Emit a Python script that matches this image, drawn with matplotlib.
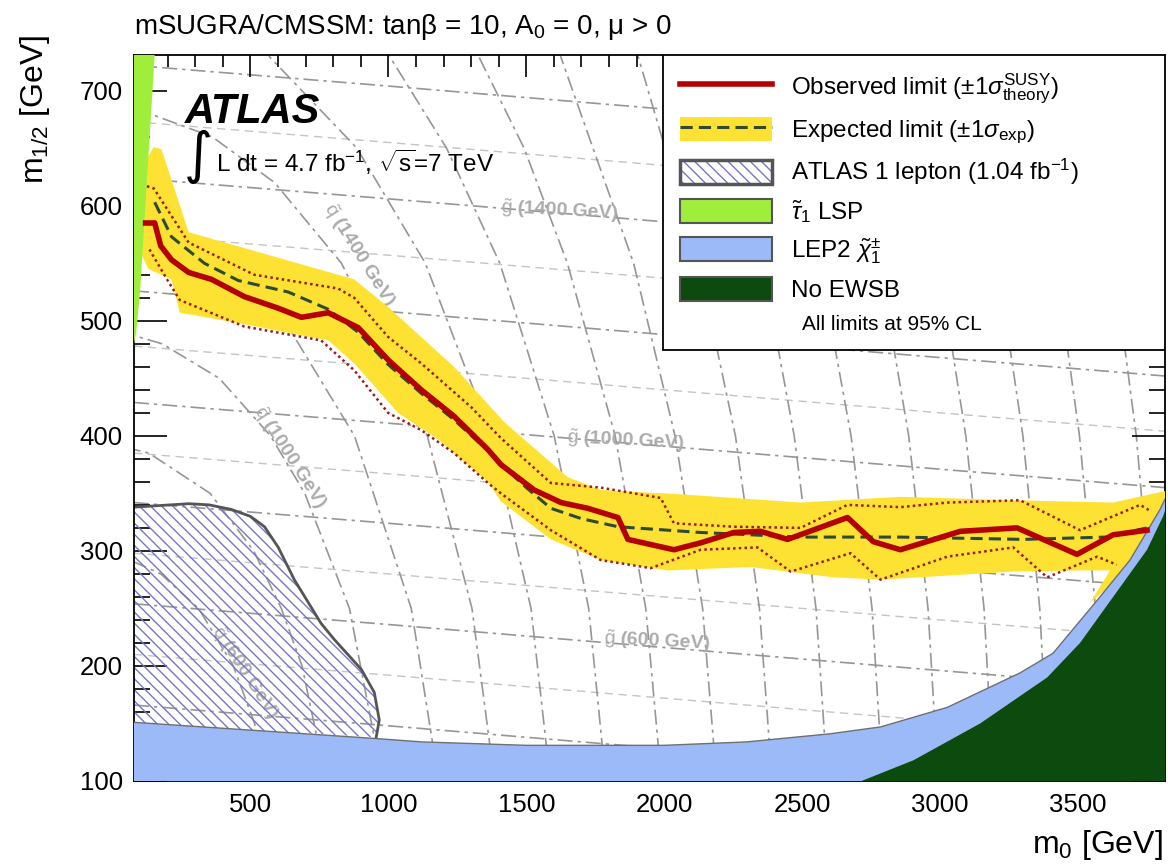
import matplotlib
matplotlib.use('Agg')
import matplotlib.pyplot as plt
from matplotlib.patches import Patch, Rectangle
from matplotlib.lines import Line2D
from matplotlib.ticker import MultipleLocator

plt.rcParams['font.family'] = ['Liberation Sans', 'DejaVu Sans']
plt.rcParams['mathtext.fontset'] = 'custom'
plt.rcParams['mathtext.rm'] = 'Liberation Sans'
plt.rcParams['mathtext.it'] = 'Liberation Sans:italic'
plt.rcParams['mathtext.bf'] = 'Liberation Sans:bold'
plt.rcParams['hatch.linewidth'] = 1.0

# ---- limit curves (m0, m1/2) in GeV ----
observed_m0 = [120, 153, 175, 214, 276, 359, 478, 600, 685, 782, 891, 999, 1119, 1238, 1361, 1408,
               1528, 1626, 1723, 1832, 1868, 2035, 2132, 2252, 2349, 2447, 2664, 2758, 2856, 3073,
               3279, 3496, 3627, 3750]
observed_m12 = [585, 585, 565, 553, 542, 536, 521, 511, 503, 507, 494, 466, 440, 417, 388, 375,
                353, 342, 337, 329, 310, 301, 307, 316, 317, 310, 329, 308, 301, 317,
                320, 297, 314, 318]

expected_m0 = [153, 214, 333, 456, 637, 782, 891, 999, 1119, 1238, 1361, 1419, 1500, 1589, 1700,
               1832, 2132, 2494, 2856, 3301, 3600, 3750]
expected_m12 = [603, 573, 550, 535, 525, 510, 490, 462, 437, 414, 387, 373, 355, 337, 328,
                321, 316, 312, 312, 310, 312, 320]

theory_up_m0 = [125, 150, 276, 514, 818, 876, 999, 1119, 1300, 1408, 1589, 1770, 1987, 2035, 2252,
                2494, 2664, 2856, 3026, 3290, 3507, 3725, 3760]
theory_up_m12 = [617, 615, 568, 540, 528, 520, 486, 463, 425, 398, 359, 355, 346, 324, 321,
                 320, 340, 338, 342, 344, 318, 340, 335]

theory_dn_m0 = [134, 200, 244, 478, 756, 876, 999, 1119, 1238, 1361, 1408, 1589, 1770, 1951, 2132,
                2338, 2458, 2675, 2784, 3026, 3265, 3388, 3569, 3640]
theory_dn_m12 = [562, 535, 518, 495, 483, 457, 420, 405, 385, 359, 350, 318, 292, 285, 301,
                 303, 282, 298, 275, 295, 303, 277, 295, 288]

# expected +-1 sigma band: upper edge left->right, lower edge right->left
band_up_m0 = [100, 149, 178, 276, 876, 999, 1238, 1420, 1650, 1770, 2071, 2494, 2856, 3265, 3627, 3815]
band_up_m12 = [630, 651, 649, 577, 536, 512, 460, 412, 364, 353, 349, 342, 347, 344, 342, 352]
band_lo_m0 = [3815, 3699, 3627, 3544, 3616, 3500, 3265, 2784, 2613, 2313, 2012, 1770, 1589, 1408,
              1361, 1180, 1035, 876, 782, 456, 244, 214, 130, 100]
band_lo_m12 = [338, 292, 272, 255, 283, 283, 282, 275, 277, 286, 283, 292, 310, 343,
               360, 397, 420, 463, 483, 498, 507, 536, 545, 560]

# excluded / theory regions
lep1_m0 = [78, 276, 350, 431, 500, 551, 601, 659, 756, 804, 902, 949, 967, 956, 514, 78]
lep1_m12 = [338, 341, 340, 336, 330, 321, 303, 275, 237, 223, 197, 177, 153, 138, 144, 151]
lep2_m0 = [78, 514, 949, 1119, 1500, 2000, 2300, 2600, 2784, 3026, 3290, 3409, 3569, 3688, 3797, 3815]
lep2_m12 = [151, 144, 137, 134, 131, 131, 134, 141, 147, 164, 194, 211, 257, 292, 336, 345]
ewsb_m0 = [2715, 2903, 3145, 3388, 3507, 3627, 3750, 3808, 3815]
ewsb_m12 = [100, 118, 150, 190, 220, 260, 301, 330, 335]
stau_m0 = [78, 86, 100, 153, 78]
stau_m12 = [480, 490, 525, 731, 731]

# iso-mass lines
gluino_m0 = [78, 1000, 2000, 3000, 3815]
gluino_lines = {
    400: [166, 148, 128, 108, 92],
    500: [210, 192, 172, 152, 136],
    600: [254, 236, 216, 196, 180],
    700: [298, 280, 260, 240, 224],
    800: [342, 324, 304, 284, 268],
    900: [385, 367, 347, 327, 311],
    1000: [429, 411, 391, 371, 355],
    1100: [478, 460, 440, 420, 404],
    1200: [526, 508, 488, 468, 452],
    1300: [575, 557, 537, 517, 501],
    1400: [624, 606, 586, 566, 550],
    1500: [673, 655, 635, 615, 599],
    1600: [722, 704, 684, 664, 648],
    1700: [771, 753, 733, 713, 697],
}
squark_lines = {
    600: ([565, 515, 438, 312, 175, 82], [100, 150, 200, 250, 280, 290]),
    800: ([774, 687, 612, 512, 354, 132, 80], [100, 200, 250, 300, 350, 385, 388]),
    1000: ([979, 859, 697, 573, 387, 180, 80], [100, 250, 350, 400, 450, 480, 487]),
    1200: ([1182, 1083, 877, 624, 411, 227, 80], [100, 250, 400, 500, 550, 575, 585]),
    1400: ([1385, 1303, 1141, 830, 588, 361, 134], [100, 250, 400, 550, 620, 660, 680]),
    1600: ([1587, 1517, 1373, 1134, 886, 567], [100, 250, 400, 550, 650, 730]),
    1800: ([1788, 1726, 1601, 1404, 1211, 1004], [100, 250, 400, 550, 650, 730]),
    2000: ([1990, 1933, 1822, 1649, 1492, 1327], [100, 250, 400, 550, 650, 730]),
    2200: ([2190, 2139, 2039, 1889, 1624], [100, 250, 400, 550, 730]),
    2400: ([2391, 2345, 2258, 2125, 1905], [100, 250, 400, 550, 730]),
    2600: ([2592, 2550, 2471, 2356, 2171], [100, 250, 400, 550, 730]),
    2800: ([2792, 2753, 2677, 2563, 2367], [100, 250, 400, 550, 730]),
    3000: ([2993, 2956, 2886, 2780, 2600], [100, 250, 400, 550, 730]),
    3200: ([3193, 3159, 3093, 2995, 2829], [100, 250, 400, 550, 730]),
    3400: ([3394, 3361, 3300, 3208, 3053], [100, 250, 400, 550, 730]),
    3600: ([3594, 3563, 3505, 3419, 3274], [100, 250, 400, 550, 730]),
    3800: ([3794, 3765, 3711, 3629, 3493], [100, 250, 400, 550, 730]),
    4000: ([3995, 3967, 3915, 3838, 3710], [100, 250, 400, 550, 730]),
}

W, H = 1168, 866
fig = plt.figure(figsize=(W / 100, H / 100), dpi=100)
ax = fig.add_axes([134 / W, 85 / H, 1031 / W, 726 / H])
ax.set_xlim(78, 3815)
ax.set_ylim(100, 731)

# grey iso-mass lines
for m, ys in gluino_lines.items():
    if m % 200 == 0:
        ax.plot(gluino_m0, ys, color='#969696', lw=1.2, ls=(0, (9, 3, 2, 3)), zorder=1)
    else:
        ax.plot(gluino_m0, ys, color='#c4c4c4', lw=1.0, ls=(0, (6, 4)), zorder=1)
for m, (xs, ys) in squark_lines.items():
    ax.plot(xs, ys, color='#969696', lw=1.2, ls=(0, (9, 3, 2, 3)), zorder=1)

lab = dict(color='#ababab', fontsize=14, fontweight='bold', ha='center', va='center',
           rotation_mode='anchor', zorder=2)
ax.text(1620, 596, r'$\tilde{\mathrm{g}}$ (1400 GeV)', rotation=-3, **lab)
ax.text(1860, 396, r'$\tilde{\mathrm{g}}$ (1000 GeV)', rotation=-3, **lab)
ax.text(1975, 221, r'$\tilde{\mathrm{g}}$ (600 GeV)', rotation=-3, **lab)
ax.text(894, 557, r'$\tilde{\mathrm{q}}$ (1400 GeV)', rotation=-58, **lab)
ax.text(641, 381, r'$\tilde{\mathrm{q}}$ (1000 GeV)', rotation=-57, **lab)
ax.text(480, 194, r'$\tilde{\mathrm{q}}$ (600 GeV)', rotation=-57, **lab)

# regions
yellow = '#fee233'
hatch_col = '#7676c6'
ax.fill(lep1_m0, lep1_m12, facecolor='none', edgecolor=hatch_col, hatch='\\\\\\', lw=0, zorder=2)
ax.plot(lep1_m0[:14], lep1_m12[:14], color='#555555', lw=2, zorder=2)
ax.fill(band_up_m0 + band_lo_m0, band_up_m12 + band_lo_m12, color=yellow, lw=0, zorder=3)
ax.fill(lep2_m0 + [3815, 78], lep2_m12 + [100, 100], color='#9cbaf7', lw=0, zorder=4)
ax.plot(lep2_m0, lep2_m12, color='#6f6f6f', lw=1.0, zorder=4)
ax.fill(ewsb_m0 + [3815], ewsb_m12 + [100], color='#0d4a0d', lw=0, zorder=4)
ax.fill(stau_m0, stau_m12, color='#9fee3c', lw=0, zorder=4)

# limit lines
red = '#b40000'
ax.plot(theory_up_m0, theory_up_m12, color='#9b1b1b', lw=1.8, ls=(0, (1, 1.3)), zorder=5)
ax.plot(theory_dn_m0, theory_dn_m12, color='#9b1b1b', lw=1.8, ls=(0, (1, 1.3)), zorder=5)
ax.plot(expected_m0, expected_m12, color='#2f4a30', lw=2.2, ls=(0, (4, 2)), zorder=6)
ax.plot(observed_m0, observed_m12, color=red, lw=4, zorder=7, solid_joinstyle='round')

# axes styling
ax.xaxis.set_major_locator(MultipleLocator(500))
ax.xaxis.set_minor_locator(MultipleLocator(100))
ax.yaxis.set_major_locator(MultipleLocator(100))
ax.yaxis.set_minor_locator(MultipleLocator(20))
ax.tick_params(which='both', direction='in', top=True, right=True, width=1.2, labelsize=18.5)
ax.tick_params(axis='x', which='major', length=16, pad=9)
ax.tick_params(axis='x', which='minor', length=8.5)
ax.tick_params(axis='y', which='major', length=24, pad=8)
ax.tick_params(axis='y', which='minor', length=11.5)
for s in ax.spines.values():
    s.set_linewidth(1.3)

# legend box
bx0 = (663 - 134) / 1031
by0 = (781 - 350) / 726
ax.add_patch(Rectangle((bx0, by0), 1 - bx0, 1 - by0, transform=ax.transAxes,
                       facecolor='white', edgecolor='black', lw=1.3, zorder=9))
handles = [
    Line2D([], [], color=red, lw=4),
    (Patch(facecolor=yellow, edgecolor='none'), Line2D([], [], color='#2f4a30', lw=2.2, ls=(0, (4, 2)))),
    (Patch(facecolor='white', edgecolor=hatch_col, hatch='\\\\\\', lw=0),
     Patch(facecolor='none', edgecolor='#555555', lw=2.5)),
    Patch(facecolor='#9fee3c', edgecolor='#555555', lw=1.5),
    Patch(facecolor='#9cbaf7', edgecolor='#555555', lw=1.5),
    Patch(facecolor='#0d4a0d', edgecolor='#555555', lw=1.5),
]
labels = [
    r'Observed limit ($\pm1\sigma^{\mathrm{SUSY}}_{\mathrm{theory}}$)',
    r'Expected limit ($\pm1\sigma_{\mathrm{exp}}$)',
    r'ATLAS 1 lepton (1.04 fb$^{\mathrm{-1}}$)',
    r'$\tilde{\tau}_1$ LSP',
    r'LEP2 $\tilde{\chi}^{\pm}_1$',
    'No EWSB',
]
leg = ax.legend(handles, labels, loc='upper left', bbox_to_anchor=(bx0, 1.0), borderaxespad=0,
                frameon=False, fontsize=17.5, handlelength=3.8, handleheight=1.15,
                labelspacing=0.45, handletextpad=0.75, borderpad=0.7)
leg.set_zorder(10)
ax.text((892 - 134) / 1031, (781 - 325) / 726, 'All limits at 95% CL', transform=ax.transAxes,
        fontsize=15, ha='center', va='center', zorder=10)

# texts
fig.text(134 / W, 1 - 27 / H, 'mSUGRA/CMSSM: tan\u03b2 = 10, A$_{\\mathrm{0}}$ = 0, \u03bc > 0',
         fontsize=20, ha='left', va='center')
fig.text(185 / W, 1 - 112 / H, 'ATLAS', fontsize=30, fontweight='bold', fontstyle='italic',
         ha='left', va='center')
fig.text(184 / W, 1 - 157 / H, '\u222b', fontsize=40, family='DejaVu Sans', ha='left', va='center')
fig.text(216 / W, 1 - 162 / H, r'L dt = 4.7 fb$^{\mathrm{-1}}$, $\sqrt{\mathrm{s}}$=7 TeV',
         fontsize=17.5, ha='left', va='center')
fig.text(1163 / W, 1 - 845 / H, r'm$_{\mathrm{0}}$ [GeV]', fontsize=23, ha='right', va='center')
fig.text(35 / W, 1 - 35 / H, r'm$_{\mathrm{1/2}}$ [GeV]', fontsize=23, rotation=90,
         ha='center', va='top')

fig.savefig('out.png', dpi=100)
